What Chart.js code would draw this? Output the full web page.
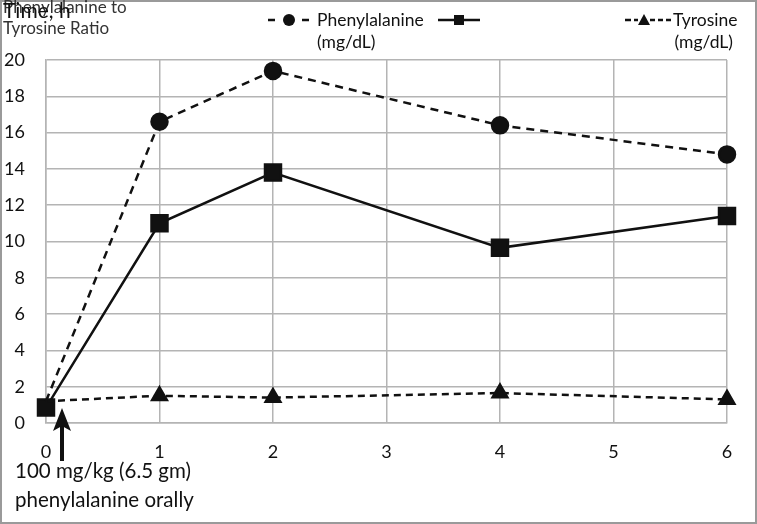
<!DOCTYPE html>
<html>
<head>
<meta charset="utf-8">
<script src="https://cdn.jsdelivr.net/npm/chart.js@4.4.0/dist/chart.umd.min.js"></script>
<style>
  html, body { margin: 0; padding: 0; background: #fff; }
  #wrap { width: 757px; height: 524px; position: relative; }
</style>
</head>
<body>
<div id="wrap"><canvas id="myChart" width="757" height="524"></canvas></div>
<script>
// hours after the oral dose
const hours = [0, 1, 2, 4, 6];
// series values
const phenylalanine = [1.2, 16.6, 19.4, 16.4, 14.8];   // mg/dL
const pheTyrRatio = [0.85, 11.0, 13.8, 9.65, 11.4];
const tyrosine = [1.2, 1.5, 1.4, 1.65, 1.3];           // mg/dL
const yTicks = [0, 2, 4, 6, 8, 10, 12, 14, 16, 18, 20];
const xTicks = [0, 1, 2, 3, 4, 5, 6];

const FONT = 'Lato, "Open Sans", sans-serif';
const gridColor = '#b4b4b4';

function toPoints(vals) {
    return hours.map((h, i) => ({ x: h, y: vals[i] }));
}

// legend, axis captions, arrow and note are drawn on top of the chart
const extrasPlugin = {
    id: 'extras',
    afterDraw(chart) {
        const ctx = chart.ctx;
        ctx.save();

        // outer frame
        ctx.strokeStyle = '#9a9a9a';
        ctx.lineWidth = 2;
        ctx.strokeRect(1, 1, 755, 522);

        ctx.strokeStyle = '#111';
        ctx.textBaseline = 'middle';

        // top-left captions (overlapping, as in the original)
        ctx.font = '17px ' + FONT;
        ctx.textAlign = 'left';
        ctx.fillStyle = '#333';
        ctx.fillText('Phenylalanine to', 3, 8);
        ctx.fillText('Tyrosine Ratio', 3, 29);
        ctx.fillStyle = '#111';
        ctx.font = '21px ' + FONT;
        ctx.fillText('Time, h', 3, 11);

        // legend: phenylalanine
        ctx.lineWidth = 2.5;
        ctx.setLineDash([]);
        ctx.beginPath();
        ctx.moveTo(268, 20); ctx.lineTo(275, 20);
        ctx.moveTo(302, 20); ctx.lineTo(309, 20);
        ctx.stroke();
        ctx.beginPath();
        ctx.arc(289, 20, 6, 0, Math.PI * 2);
        ctx.fill();
        ctx.font = '17.5px ' + FONT;
        ctx.fillStyle = '#111';
        ctx.fillText('Phenylalanine', 317, 20);
        ctx.fillText('(mg/dL)', 317, 42);

        // legend: ratio (label sits at top-left)
        ctx.beginPath();
        ctx.moveTo(438, 20); ctx.lineTo(480, 20);
        ctx.stroke();
        ctx.fillRect(454, 15, 10, 10);

        // legend: tyrosine
        ctx.beginPath();
        ctx.moveTo(625, 20); ctx.lineTo(631, 20);
        ctx.moveTo(634, 20); ctx.lineTo(638, 20);
        ctx.moveTo(650, 20); ctx.lineTo(655, 20);
        ctx.moveTo(658, 20); ctx.lineTo(663, 20);
        ctx.moveTo(666, 20); ctx.lineTo(671, 20);
        ctx.stroke();
        ctx.beginPath();
        ctx.moveTo(644, 14); ctx.lineTo(650, 25); ctx.lineTo(638, 25);
        ctx.closePath();
        ctx.fill();
        ctx.textAlign = 'left';
        ctx.fillText('Tyrosine', 673, 20);
        ctx.textAlign = 'right';
        ctx.fillText('(mg/dL)', 733, 42);

        // dose arrow
        ctx.fillRect(60, 426, 4, 35);
        ctx.beginPath();
        ctx.moveTo(62, 408); ctx.lineTo(71, 431); ctx.lineTo(62, 426); ctx.lineTo(53, 431);
        ctx.closePath();
        ctx.fill();

        // dose note
        ctx.textAlign = 'left';
        ctx.font = '20.5px ' + FONT;
        ctx.fillText('100 mg/kg (6.5 gm)', 15, 471);
        ctx.fillText('phenylalanine orally', 15, 500);

        ctx.restore();
    }
};

const ctx = document.getElementById('myChart').getContext('2d');
window.pheChart = new Chart(ctx, {
    type: 'line',
    data: {
        datasets: [
            {
                label: 'Phenylalanine (mg/dL)',
                data: toPoints(phenylalanine),
                borderColor: '#111',
                backgroundColor: '#111',
                borderWidth: 2.5,
                borderDash: [8, 6],
                pointStyle: 'circle',
                pointRadius: [0, 8, 8, 8, 8],
                clip: false,
                fill: false
            },
            {
                label: 'Tyrosine (mg/dL)',
                data: toPoints(tyrosine),
                borderColor: '#111',
                backgroundColor: '#111',
                borderWidth: 2.5,
                borderDash: [7, 5],
                pointStyle: 'triangle',
                pointRadius: [0, 8.5, 8.5, 8.5, 8.5],
                clip: false,
                fill: false
            },
            {
                label: 'Phenylalanine to Tyrosine Ratio',
                data: toPoints(pheTyrRatio),
                borderColor: '#111',
                backgroundColor: '#111',
                borderWidth: 2.5,
                pointStyle: 'rect',
                pointRadius: 11.3,
                clip: false,
                fill: false
            }
        ]
    },
    options: {
        responsive: false,
        animation: false,
        layout: { padding: { top: 60, right: 30, left: 0, bottom: 0 } },
        plugins: {
            legend: { display: false },
            tooltip: { enabled: false }
        },
        scales: {
            x: {
                type: 'linear',
                min: 0,
                max: 6,
                afterBuildTicks: (scale) => { scale.ticks = xTicks.map(v => ({ value: v })); },
                afterFit: (scale) => { scale.height = 101; },
                grid: { color: gridColor, lineWidth: 1.5, drawTicks: false },
                border: { color: gridColor, width: 1.5 },
                ticks: { color: '#111', padding: 18, font: { family: FONT, size: 18 } }
            },
            y: {
                min: 0,
                max: 20,
                afterBuildTicks: (scale) => { scale.ticks = yTicks.map(v => ({ value: v })); },
                afterFit: (scale) => { scale.width = 46; },
                grid: { color: gridColor, lineWidth: 1.5, drawTicks: false },
                border: { color: gridColor, width: 1.5 },
                ticks: { color: '#111', padding: 21, font: { family: FONT, size: 18 } }
            }
        }
    },
    plugins: [extrasPlugin]
});
</script>
</body>
</html>
